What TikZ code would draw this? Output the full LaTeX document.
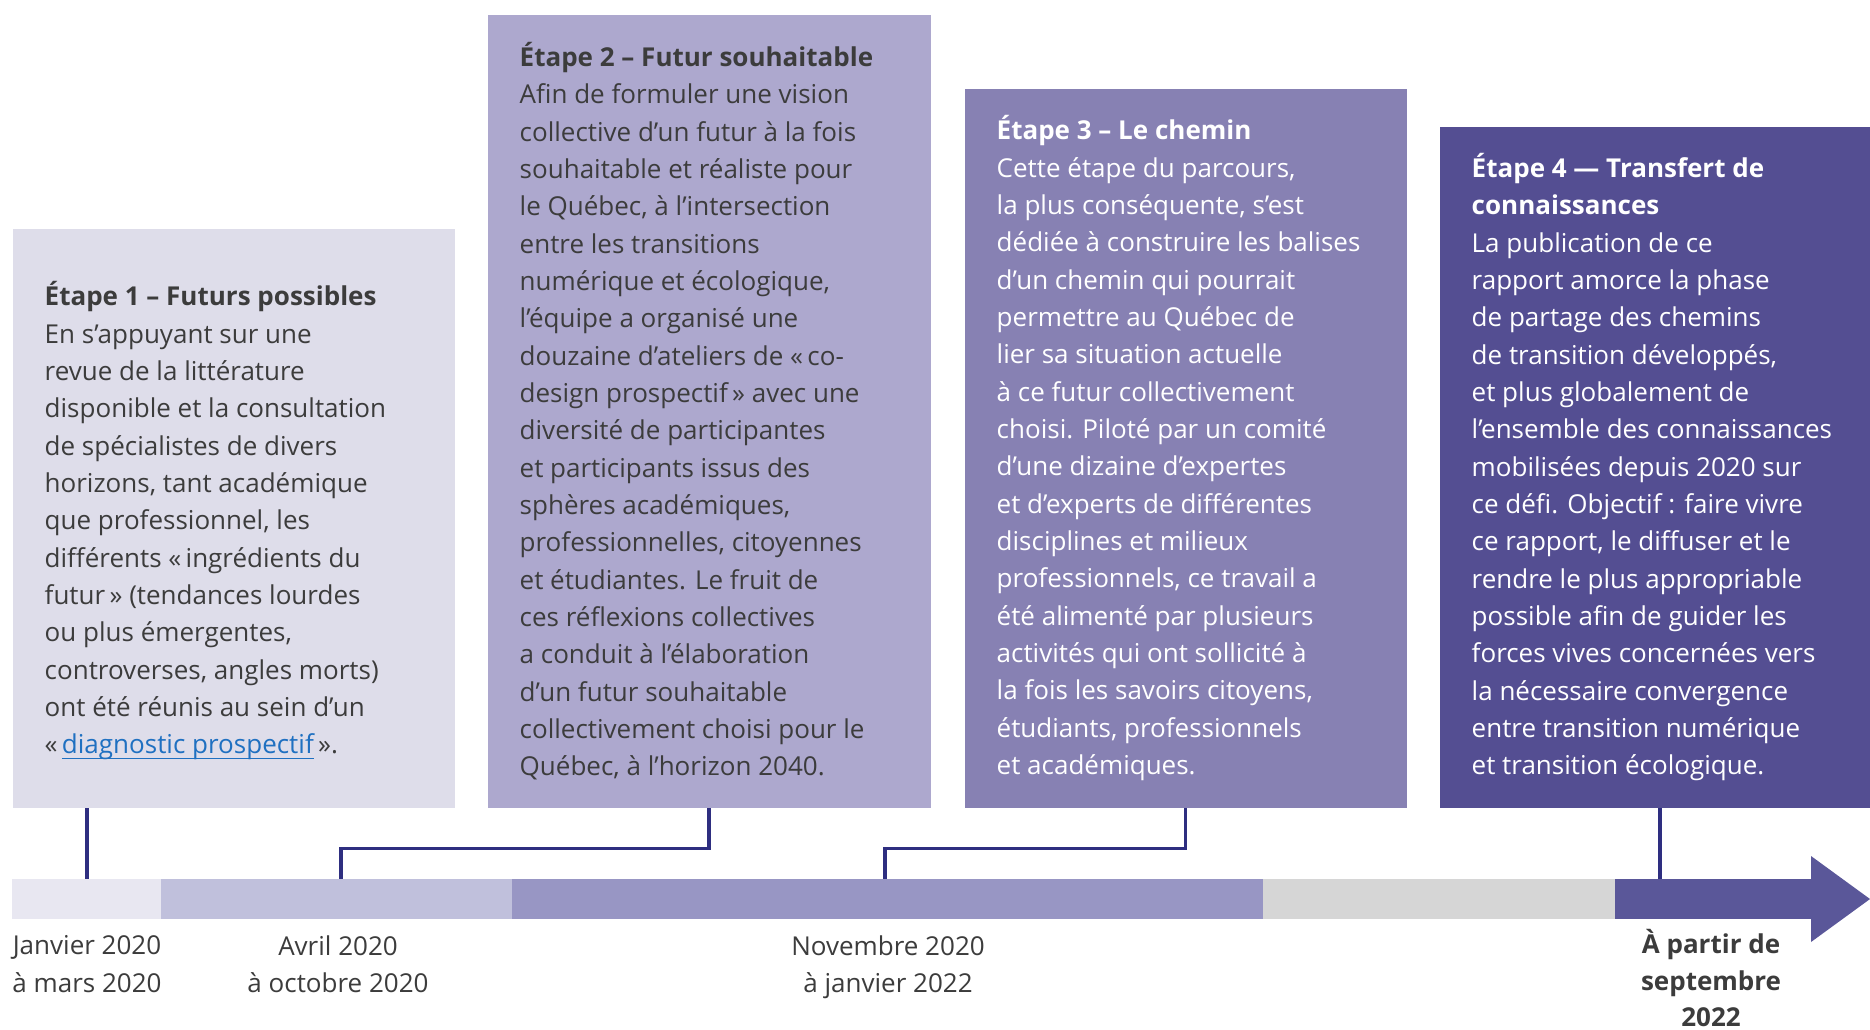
\documentclass[tikz,border=0pt]{standalone}
\usepackage{fontspec}
\setmainfont{Open Sans}
\usetikzlibrary{positioning}

\definecolor{etapeA}{HTML}{DEDDEA}
\definecolor{etapeB}{HTML}{ADA8CE}
\definecolor{etapeC}{HTML}{8781B3}
\definecolor{etapeD}{HTML}{544E92}
\definecolor{barA}{HTML}{E8E7F1}
\definecolor{barB}{HTML}{C0C0DC}
\definecolor{barC}{HTML}{9896C4}
\definecolor{barD}{HTML}{D6D6D6}
\definecolor{barE}{HTML}{5A5799}
\definecolor{connblue}{HTML}{2E2E80}
\definecolor{textgray}{HTML}{3C3C3C}
\definecolor{linkblue}{HTML}{1F70C1}

\begin{document}
\begin{tikzpicture}[x=0.1mm, y=-0.1mm,
    box/.style={rectangle, anchor=north west, inner sep=0pt},
    txt/.style={align=left, inner sep=0pt, font=\fontsize{7.4pt}{10.62pt}\selectfont},
    seg/.style={rectangle, inner sep=0pt, outer sep=0pt, minimum height=4mm},
    datelbl/.style={align=center, inner sep=0pt, text=textgray, font=\fontsize{7.4pt}{10.62pt}\selectfont},
    datebold/.style={datelbl, font=\fontsize{7.4pt}{10.3pt}\selectfont\bfseries},
    conn/.style={draw=connblue, line width=1pt}]

    \useasboundingbox[fill=white] (0,0) rectangle (1870,1029);

    % Etapes
    \node[box, fill=etapeA, minimum width=44.2mm, minimum height=57.9mm] (box1) at (12,228) {};
    \node[box, fill=etapeB, minimum width=44.3mm, minimum height=79.3mm] (box2) at (487,14) {};
    \node[box, fill=etapeC, minimum width=44.2mm, minimum height=71.9mm] (box3) at (964,88) {};
    \node[box, fill=etapeD, minimum width=43.1mm, minimum height=68.1mm] (box4) at (1439,126) {};

    \node[txt, text=textgray, right=3.2mm of box1.west, yshift=-0.3mm] (txt1) {%
        \textbf{Étape 1 – Futurs possibles}\\
        En s’appuyant sur une\\
        revue de la littérature\\
        disponible et la consultation\\
        de spécialistes de divers\\
        horizons, tant académique\\
        que professionnel, les\\
        différents «\,ingrédients du\\
        futur\,» (tendances lourdes\\
        ou plus émergentes,\\
        controverses, angles morts)\\
        ont été réunis au sein d’un\\
        «\,\textcolor{linkblue}{\underline{\smash{diagnostic prospectif}}}\,».};
    \node[txt, text=textgray, right=3.2mm of box2.west] (txt2) {%
        \textbf{Étape 2 – Futur souhaitable}\\
        Afin de formuler une vision\\
        collective d’un futur à la fois\\
        souhaitable et réaliste pour\\
        le Québec, à l’intersection\\
        entre les transitions\\
        numérique et écologique,\\
        l’équipe a organisé une\\
        douzaine d’ateliers de «\,co-\\
        design prospectif\,» avec une\\
        diversité de participantes\\
        et participants issus des\\
        sphères académiques,\\
        professionnelles, citoyennes\\
        et étudiantes. Le fruit de\\
        ces réflexions collectives\\
        a conduit à l’élaboration\\
        d’un futur souhaitable\\
        collectivement choisi pour le\\
        Québec, à l’horizon 2040.};
    \node[txt, text=white, right=3.2mm of box3.west] (txt3) {%
        \textbf{Étape 3 – Le chemin}\\
        Cette étape du parcours,\\
        la plus conséquente, s’est\\
        dédiée à construire les balises\\
        d’un chemin qui pourrait\\
        permettre au Québec de\\
        lier sa situation actuelle\\
        à ce futur collectivement\\
        choisi. Piloté par un comité\\
        d’une dizaine d’expertes\\
        et d’experts de différentes\\
        disciplines et milieux\\
        professionnels, ce travail a\\
        été alimenté par plusieurs\\
        activités qui ont sollicité à\\
        la fois les savoirs citoyens,\\
        étudiants, professionnels\\
        et académiques.};
    \node[txt, text=white, right=3.2mm of box4.west] (txt4) {%
        \textbf{Étape 4 — Transfert de}\\
        \textbf{connaissances}\\
        La publication de ce\\
        rapport amorce la phase\\
        de partage des chemins\\
        de transition développés,\\
        et plus globalement de\\
        l’ensemble des connaissances\\
        mobilisées depuis 2020 sur\\
        ce défi. Objectif : faire vivre\\
        ce rapport, le diffuser et le\\
        rendre le plus appropriable\\
        possible afin de guider les\\
        forces vives concernées vers\\
        la nécessaire convergence\\
        entre transition numérique\\
        et transition écologique.};

    % Timeline
    \node[seg, anchor=north west, fill=barA, minimum width=15.1mm] (seg1) at (12,879) {};
    \node[seg, fill=barB, minimum width=35.3mm, right=-0.2mm of seg1] (seg2) {};
    \node[seg, fill=barC, minimum width=75.3mm, right=-0.2mm of seg2] (seg3) {};
    \node[seg, fill=barD, minimum width=35.4mm, right=-0.2mm of seg3] (seg4) {};
    \node[seg, fill=barE, minimum width=19.7mm, right=-0.2mm of seg4] (seg5) {};
    \fill[barE] ([xshift=-0.1mm, yshift=2.3mm]seg5.north east) -- ([xshift=5.8mm]seg5.east)
        -- ([xshift=-0.1mm, yshift=-2.3mm]seg5.south east) -- cycle;

    % Connectors
    \coordinate (c1) at (87,879);
    \coordinate (c2) at (341,879);
    \coordinate (c3) at (885,879);
    \coordinate (c4) at (1660,879);
    \draw[conn] (box1.south -| c1) -- (c1);
    \draw[conn] (box2.south) -- ++(0,40) -| (c2);
    \draw[conn] (box3.south) -- ++(0,40) -| (c3);
    \draw[conn] (box4.south -| c4) -- (c4);

    % Dates
    \node[datelbl, below=5.6mm of c1] (d1) {Janvier 2020\\à mars 2020};
    \node[datelbl, below=5.6mm of c2, xshift=-0.3mm] (d2) {Avril 2020\\à octobre 2020};
    \node[datelbl, below=5.6mm of c3, xshift=0.3mm] (d3) {Novembre 2020\\à janvier 2022};
    \node[datebold, anchor=north] (d4) at (1711,929) {À partir de\\septembre\\2022};

\end{tikzpicture}
\end{document}
